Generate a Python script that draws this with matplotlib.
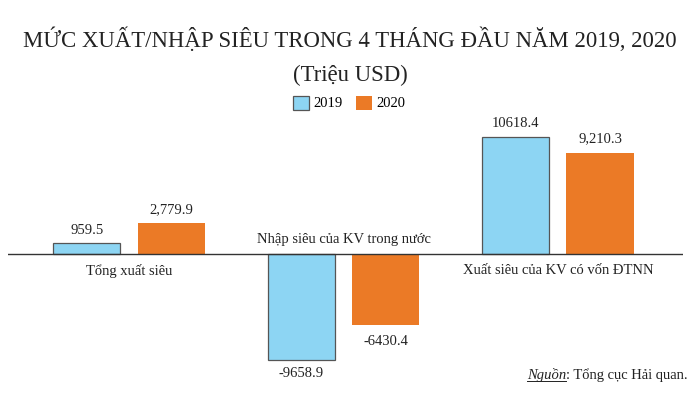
import matplotlib
matplotlib.use("Agg")
import matplotlib.pyplot as plt
import numpy as np
from matplotlib.lines import Line2D

categories = ["Tổng xuất siêu", "Nhập siêu của KV trong nước", "Xuất siêu của KV có vốn ĐTNN"]
values_2019 = [959.5, -9658.9, 10618.4]
values_2020 = [2779.9, -6430.4, 9210.3]
labels_2019 = ["959.5", "-9658.9", "10618.4"]
labels_2020 = ["2,779.9", "-6430.4", "9,210.3"]
series_names = ["2019", "2020"]

plt.rcParams['font.family'] = ['Liberation Serif', 'DejaVu Serif']

fig = plt.figure(figsize=(7, 3.95), dpi=100)
ax = fig.add_axes([8/700, 0.05, (683-8)/700, 0.6276])

blue = '#8DD5F3'
orange = '#EB7A26'
x = np.arange(len(categories))
w = 0.313
off = 0.197
b1 = ax.bar(x - off, values_2019, w, color=blue, edgecolor='#555555', linewidth=0.9, label=series_names[0])
b2 = ax.bar(x + off, values_2020, w, color=orange, edgecolor='none', label=series_names[1])

ax.set_xlim(-0.565, 2.584)
ax.set_ylim(-11000, 11500)
ax.axhline(0, color='#333333', linewidth=1.0)
for s in ax.spines.values():
    s.set_visible(False)
ax.set_xticks([]); ax.set_yticks([])
ax.patch.set_alpha(0)

fs = 10.5
for xi, v, lab in zip(x - off, values_2019, labels_2019):
    ax.annotate(lab, (xi, v), xytext=(0, 5 if v > 0 else -5), textcoords='offset points',
                ha='center', va='bottom' if v > 0 else 'top', fontsize=fs, color='#222222')
for xi, v, lab in zip(x + off, values_2020, labels_2020):
    ax.annotate(lab, (xi, v), xytext=(0, 5 if v > 0 else -7), textcoords='offset points',
                ha='center', va='bottom' if v > 0 else 'top', fontsize=fs, color='#222222')

# category labels
ax.annotate(categories[0], (x[0], 0), xytext=(0, -7), textcoords='offset points', ha='center', va='top', fontsize=fs, color='#222222')
ax.annotate(categories[1], (x[1], 0), xytext=(0, 6), textcoords='offset points', ha='center', va='bottom', fontsize=fs, color='#222222')
ax.annotate(categories[2], (x[2], 0), xytext=(0, -7), textcoords='offset points', ha='center', va='top', fontsize=fs, color='#222222')

fig.text(0.5, 1 - 40/395, "MỨC XUẤT/NHẬP SIÊU TRONG 4 THÁNG ĐẦU NĂM 2019, 2020", ha='center', va='center', fontsize=16.4, color='#222222')
fig.text(0.5, 1 - 75/395, "(Triệu USD)", ha='center', va='center', fontsize=16.4, color='#222222')

leg = fig.legend(handles=[b1, b2], loc='center', bbox_to_anchor=(349/700, 1 - 103/395), ncol=2, frameon=False,
                 fontsize=fs, handlelength=1.1, handleheight=1.1, handletextpad=0.3, columnspacing=0.9)

t2 = fig.text(688/700, 1 - 379/395, ": Tổng cục Hải quan.", ha='right', va='baseline', fontsize=fs, color='#222222')
t1 = fig.text(0, 0, "Nguồn", ha='right', va='baseline', fontsize=fs, style='italic', color='#222222')
fig.canvas.draw()
r = fig.canvas.get_renderer()
bb2 = t2.get_window_extent(r)
t1.set_position((bb2.x0 / fig.bbox.width, t2.get_position()[1]))
fig.canvas.draw()
bb1 = t1.get_window_extent(r)
uy = (t2.get_position()[1] * fig.bbox.height - 2) / fig.bbox.height
fig.add_artist(Line2D([bb1.x0 / fig.bbox.width, bb1.x1 / fig.bbox.width], [uy, uy], transform=fig.transFigure, color='#222222', linewidth=0.7))

fig.savefig("out.png", dpi=100)
